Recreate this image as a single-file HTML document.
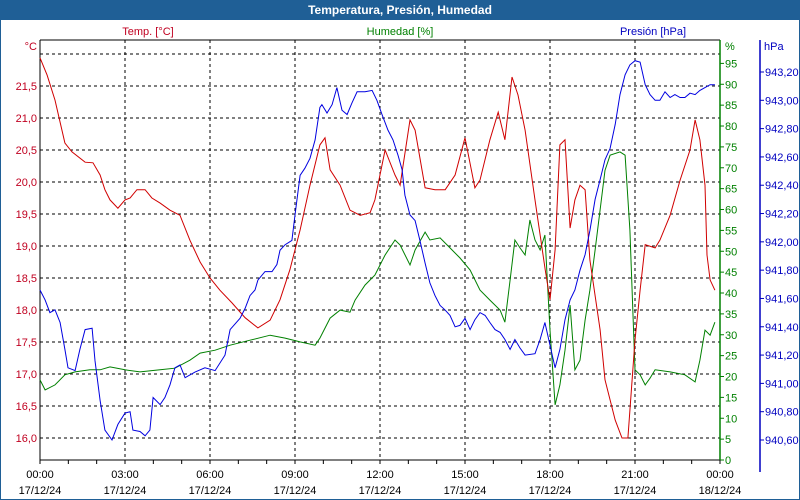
<!DOCTYPE html>
<html><head><meta charset="utf-8"><style>
body{margin:0;background:#fff}
svg{display:block;font-family:"Liberation Sans",sans-serif;font-size:11px}
</style></head><body>
<svg id="c" width="800" height="500">
<rect x="0" y="0" width="800" height="500" fill="#fff" stroke="#1f5f96" stroke-width="2"/>
<rect x="0" y="0" width="800" height="20" fill="#1f5f96"/>
<text x="400" y="14" text-anchor="middle" fill="#fff" font-weight="bold" font-size="12">Temperatura, Presión, Humedad</text>
<text x="148" y="35" text-anchor="middle" fill="#c00020">Temp. [°C]</text>
<text x="400" y="35" text-anchor="middle" fill="#008000">Humedad [%]</text>
<text x="653" y="35" text-anchor="middle" fill="#0000c0">Presión [hPa]</text>
<text x="37" y="50" text-anchor="end" fill="#c00020">°C</text>
<text x="725" y="50" fill="#008000">%</text>
<text x="764" y="50" fill="#0000c0">hPa</text>
<g id="g"></g>
</svg>
<script>
const tempData=[[0,21.94],[.25,21.67],[.53,21.28],[.88,20.61],[1.13,20.47],[1.59,20.31],[1.87,20.3],[2.12,20.11],[2.29,19.88],[2.47,19.72],[2.75,19.59],[3.0,19.72],[3.18,19.75],[3.42,19.88],[3.71,19.88],[3.95,19.75],[4.24,19.67],[4.59,19.56],[4.94,19.48],[5.29,19.09],[5.65,18.75],[6.0,18.5],[6.35,18.31],[6.78,18.11],[7.24,17.88],[7.69,17.72],[8.12,17.84],[8.47,18.16],[8.82,18.63],[9.18,19.25],[9.53,19.95],[9.88,20.58],[10.06,20.69],[10.24,20.19],[10.59,19.95],[10.94,19.56],[11.3,19.48],[11.65,19.52],[11.82,19.72],[12.18,20.5],[12.53,20.11],[12.71,19.95],[13.06,20.97],[13.24,20.81],[13.59,19.91],[13.94,19.88],[14.3,19.88],[14.65,20.11],[15.0,20.69],[15.35,19.91],[15.53,20.03],[15.88,20.66],[16.17,21.09],[16.41,20.66],[16.66,21.64],[16.87,21.36],[17.12,20.81],[17.47,19.72],[17.83,18.63],[18.0,18.16],[18.18,18.94],[18.35,20.58],[18.53,20.66],[18.71,19.28],[18.88,19.72],[19.06,19.95],[19.24,19.88],[19.41,18.78],[19.77,17.69],[19.94,16.91],[20.3,16.28],[20.54,16.0],[20.75,16.0],[21.0,17.53],[21.18,18.31],[21.36,19.02],[21.71,18.97],[21.88,19.09],[22.24,19.48],[22.59,20.03],[22.94,20.5],[23.12,20.97],[23.29,20.66],[23.47,19.95],[23.54,18.86],[23.65,18.47],[23.82,18.31]];
const humHours=[0,.18,.53,.88,1.24,1.76,2.12,2.47,3.0,3.53,4.24,4.76,5.29,5.65,6.18,6.71,7.41,8.12,8.65,9.18,9.71,9.88,10.24,10.59,10.94,11.12,11.47,11.82,12.18,12.53,12.71,13.06,13.24,13.59,13.76,14.12,14.47,14.82,15.18,15.53,15.88,16.24,16.41,16.59,16.76,16.94,17.12,17.29,17.47,17.65,17.82,18.0,18.18,18.35,18.53,18.71,18.88,19.06,19.24,19.41,19.59,19.77,19.94,20.12,20.47,20.65,20.82,21.0,21.18,21.36,21.53,21.71,22.24,22.76,23.12,23.29,23.47,23.65,23.82];
const humValues=[19.2,16.8,18.0,20.4,21.1,21.6,21.6,22.3,21.6,21.1,21.6,22.0,23.9,25.6,26.3,27.5,28.7,29.9,29.2,28.3,27.5,29.2,34.0,35.9,35.4,38.3,41.9,44.3,49.1,52.7,51.5,46.7,50.3,54.6,52.7,53.2,50.8,48.4,45.5,40.7,38.3,35.9,33.0,43.1,52.7,50.8,49.1,57.5,52.7,50.3,53.9,31.1,13.2,18.0,26.3,37.1,21.6,23.9,33.5,40.7,50.3,59.9,69.4,73.0,73.8,73.0,55.1,21.6,20.4,18.0,19.6,21.6,21.1,20.4,18.7,23.9,31.1,29.9,33.0];
const presHours=[0,.18,.35,.53,.71,.88,.99,1.24,1.41,1.59,1.84,1.94,2.12,2.29,2.54,2.75,3.0,3.18,3.28,3.53,3.71,3.88,3.99,4.24,4.41,4.59,4.76,4.94,5.12,5.47,5.82,6.18,6.53,6.71,7.06,7.24,7.41,7.59,7.69,7.94,8.19,8.36,8.47,8.65,8.89,9.0,9.18,9.35,9.53,9.71,9.88,9.95,10.13,10.31,10.48,10.66,10.84,11.01,11.19,11.47,11.72,11.89,12.07,12.28,12.46,12.64,12.78,12.88,13.06,13.24,13.41,13.59,13.76,13.94,14.12,14.29,14.47,14.65,14.82,15.0,15.18,15.35,15.53,15.71,15.88,16.06,16.24,16.41,16.59,16.76,16.94,17.12,17.47,17.65,17.82,18.0,18.18,18.35,18.53,18.71,18.88,19.06,19.24,19.41,19.59,19.77,19.94,20.12,20.3,20.47,20.65,20.82,21.0,21.18,21.36,21.53,21.71,21.88,22.06,22.24,22.41,22.59,22.76,22.94,23.12,23.29,23.47,23.65,23.82];
const presValues=[941.66,941.59,941.50,941.52,941.43,941.24,941.11,941.09,941.24,941.38,941.39,941.16,940.88,940.67,940.60,940.71,940.79,940.80,940.67,940.66,940.63,940.67,940.90,940.85,940.90,940.99,941.11,941.13,941.04,941.08,941.11,941.09,941.20,941.38,941.46,941.53,941.62,941.66,941.73,941.79,941.79,941.84,941.94,941.98,942.01,942.19,942.47,942.52,942.59,942.72,942.95,942.97,942.91,942.97,943.09,942.93,942.90,942.98,943.06,943.06,943.07,943.00,942.90,942.79,942.72,942.61,942.51,942.33,942.19,942.15,942.01,941.85,941.71,941.62,941.55,941.52,941.48,941.40,941.41,941.46,941.38,941.45,941.50,941.48,941.43,941.38,941.36,941.31,941.24,941.31,941.25,941.20,941.21,941.31,941.43,941.27,941.11,941.24,941.45,941.59,941.66,941.80,941.91,942.08,942.30,942.44,942.58,942.66,942.83,943.04,943.18,943.25,943.28,943.27,943.11,943.04,943.00,943.00,943.06,943.02,943.04,943.02,943.02,943.05,943.04,943.07,943.09,943.11,943.11];
const tempTicks=["16,0","16,5","17,0","17,5","18,0","18,5","19,0","19,5","20,0","20,5","21,0","21,5"];
const tempTickValues=[16,16.5,17,17.5,18,18.5,19,19.5,20,20.5,21,21.5,22];
const humTicks=[0,5,10,15,20,25,30,35,40,45,50,55,60,65,70,75,80,85,90,95];
const presTicks=[940.6,940.8,941.0,941.2,941.4,941.6,941.8,942.0,942.2,942.4,942.6,942.8,943.0,943.2];
const xTickHours=[0,3,6,9,12,15,18,21,24];
const xTickLabels=["00:00","03:00","06:00","09:00","12:00","15:00","18:00","21:00","00:00"];
const xDateLabels=["17/12/24","17/12/24","17/12/24","17/12/24","17/12/24","17/12/24","17/12/24","17/12/24","18/12/24"];

const L=40,R=720,T=40,B=460;
const xs=h=>L+h*(R-L)/24;
const yT=v=>438-(v-16)*64;
const yH=v=>460-v*(460-63.4)/95;
const yP=v=>440-(v-940.6)*(440-72)/2.6;
const g=document.getElementById('g');
const NS='http://www.w3.org/2000/svg';
function mk(t,a,p){const e=document.createElementNS(NS,t);for(const k in a)e.setAttribute(k,a[k]);(p||g).appendChild(e);return e;}

// horizontal grid
tempTickValues.forEach(v=>{const e=mk('line',{x1:L,x2:R,y1:yT(v),y2:yT(v),stroke:'#000','stroke-dasharray':'3,3'});

});
xTickHours.slice(1,8).forEach(h=>{const e=mk('line',{x1:xs(h),x2:xs(h),y1:T,y2:B,stroke:'#000','stroke-dasharray':'3,3'});

});
// frame
let e;
e=mk('line',{x1:L,x2:R,y1:T,y2:T,stroke:'#000'});
e=mk('line',{x1:L,x2:L,y1:T,y2:B,stroke:'#000'});
e=mk('line',{x1:L,x2:R,y1:B,y2:B,stroke:'#000'});
e=mk('line',{x1:R,x2:R,y1:T,y2:B,stroke:'#008000','stroke-width':1.5});
e=mk('line',{x1:760,x2:760,y1:T,y2:472,stroke:'#0000c0','stroke-width':1.5});

tempTicks.forEach((t,i)=>{const y=yT(tempTickValues[i]);const e=mk('text',{x:37,y:y+4,'text-anchor':'end',fill:'#c00020'});e.textContent=t;

});
humTicks.forEach(v=>{const y=yH(v);mk('line',{x1:R,x2:R+4,y1:y,y2:y,stroke:'#008000'});const e=mk('text',{x:725,y:y+4,fill:'#008000'});e.textContent=v;

});
presTicks.forEach(v=>{const y=yP(v);mk('line',{x1:760,x2:764,y1:y,y2:y,stroke:'#0000c0'});const e=mk('text',{x:765,y:y+4,fill:'#0000c0'});e.textContent=v.toFixed(2).replace('.',',');

});
for(let h=0;h<=24;h++){mk('line',{x1:xs(h),x2:xs(h),y1:B,y2:B+4,stroke:'#000'});}
xTickHours.forEach((h,i)=>{let e=mk('text',{x:xs(h),y:478,'text-anchor':'middle',fill:'#000'});e.textContent=xTickLabels[i];


e=mk('text',{x:xs(h),y:494,'text-anchor':'middle',fill:'#000'});e.textContent=xDateLabels[i];

});

function line(pts,col,name){const e=mk('polyline',{points:pts.map(p=>p[0].toFixed(1)+','+p[1].toFixed(1)).join(' '),fill:'none',stroke:col,'stroke-width':1});

}
line(humHours.map((h,i)=>[xs(h),yH(humValues[i])]),'#008000','humidity-line');
line(tempData.map(p=>[xs(p[0]),yT(p[1])]),'#d00000','temperature-line');
line(presHours.map((h,i)=>[xs(h),yP(presValues[i])]),'#0000e0','pressure-line');
</script>
</body></html>
